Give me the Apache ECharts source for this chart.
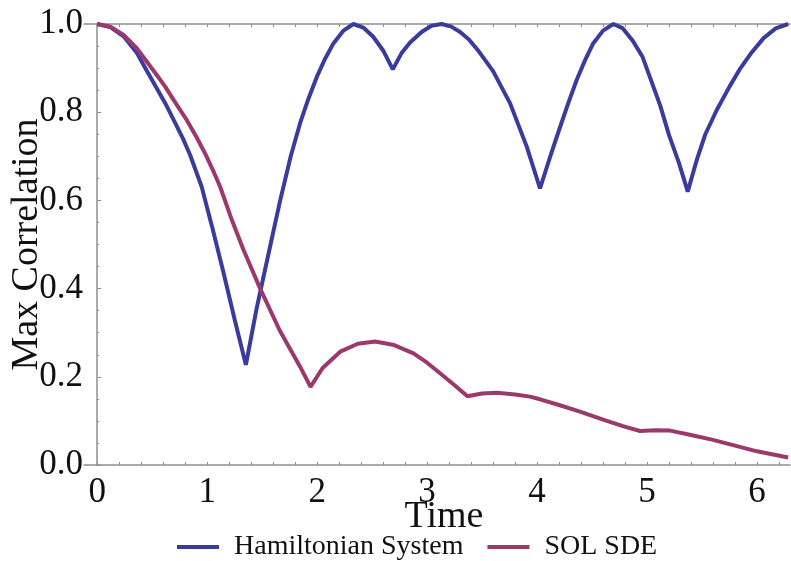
<!DOCTYPE html>
<html>
<head>
<meta charset="utf-8">
<script src="https://cdn.jsdelivr.net/npm/echarts@6/dist/echarts.min.js"></script>
<style>
  html, body { margin: 0; padding: 0; background: #fff; }
  #main { width: 791px; height: 561px; }
</style>
</head>
<body>
<div id="main"></div>
<script>
// values
var hamTime = [0, 0.12, 0.24, 0.36, 0.46, 0.54, 0.63, 0.71, 0.78, 0.845, 0.95, 1.05, 1.15, 1.25, 1.352, 1.45, 1.55, 1.664, 1.76, 1.845,
  1.92, 1.997, 2.07, 2.148, 2.24, 2.33, 2.42, 2.51, 2.6, 2.688, 2.77, 2.845, 2.95, 3.04, 3.133, 3.22, 3.3, 3.38, 3.47, 3.6,
  3.755, 3.906, 4.027, 4.12, 4.21, 4.29, 4.36, 4.44, 4.51, 4.6, 4.694, 4.78, 4.87, 4.96, 5.04, 5.12, 5.2, 5.29, 5.37, 5.45,
  5.53, 5.634, 5.75, 5.85, 5.95, 6.06, 6.17, 6.283];
var hamCorr = [1.0, 0.993, 0.972, 0.935, 0.89, 0.855, 0.815, 0.775, 0.74, 0.703, 0.631, 0.535, 0.435, 0.33, 0.227, 0.355, 0.47, 0.6, 0.70, 0.775,
  0.83, 0.88, 0.92, 0.956, 0.985, 1.0, 0.992, 0.971, 0.94, 0.897, 0.935, 0.958, 0.982, 0.996, 1.0, 0.994, 0.982, 0.965, 0.938, 0.893,
  0.82, 0.722, 0.627, 0.70, 0.767, 0.825, 0.873, 0.92, 0.956, 0.985, 1.0, 0.99, 0.962, 0.925, 0.87, 0.815, 0.748, 0.685, 0.62, 0.69,
  0.75, 0.805, 0.858, 0.9, 0.935, 0.968, 0.99, 1.0];

var sdeTime = [0, 0.12, 0.24, 0.36, 0.45, 0.54, 0.618, 0.715, 0.815, 0.9, 0.98, 1.05, 1.118, 1.224, 1.33, 1.482, 1.66, 1.845, 1.94, 2.05,
  2.21, 2.37, 2.527, 2.7, 2.876, 3.0, 3.118, 3.25, 3.367, 3.5, 3.634, 3.8, 3.936, 4.027, 4.2, 4.39, 4.6, 4.78, 4.936, 5.07,
  5.21, 5.4, 5.6, 5.8, 6.0, 6.283];
var sdeCorr = [1.0, 0.994, 0.975, 0.945, 0.915, 0.885, 0.858, 0.82, 0.782, 0.745, 0.707, 0.67, 0.631, 0.556, 0.488, 0.40, 0.305, 0.223, 0.177, 0.22,
  0.257, 0.275, 0.28, 0.272, 0.253, 0.232, 0.208, 0.181, 0.156, 0.162, 0.164, 0.16, 0.155, 0.149, 0.136, 0.121, 0.103, 0.088, 0.077, 0.079,
  0.078, 0.068, 0.057, 0.044, 0.031, 0.017];

var xLabels = [0, 1, 2, 3, 4, 5, 6];
var seriesNames = ['Hamiltonian System', 'SOL SDE'];

var serif = '"Liberation Serif", "DejaVu Serif", serif';
var axisGray = '#8f8f8f';

// tick every 0.2 along time
var xTicks = [];
for (var i = 0; i <= 31; i++) xTicks.push(Math.round(i * 0.2 * 10) / 10);

function pairs(t, v) {
  return t.map(function (x, i) { return [x, v[i]]; });
}

var myChart = echarts.init(document.getElementById('main'));
myChart.setOption({
  animation: false,
  color: ['#3a3c9c', '#9b386c'],
  grid: { left: 84, right: 1, top: 24, bottom: 96, containLabel: false, outerBoundsMode: 'none' },
  legend: {
    left: 177,
    top: 533,
    icon: 'rect',
    itemWidth: 42,
    itemHeight: 4,
    itemGap: 24,
    padding: 0,
    data: seriesNames,
    textStyle: { fontFamily: serif, fontSize: 28, color: '#111', padding: [0, 0, 0, 10] }
  },
  xAxis: [{
    type: 'value',
    min: -0.12,
    max: 6.3,
    position: 'bottom',
    name: 'Time',
    nameLocation: 'middle',
    nameGap: 33,
    nameMoveOverlap: false,
    nameTextStyle: { fontFamily: serif, fontSize: 38, color: '#111', padding: [0, 0, 0, 14] },
    axisLine: { lineStyle: { color: axisGray, width: 1.5 } },
    axisTick: { inside: true, length: 3, customValues: xTicks, lineStyle: { color: axisGray } },
    axisLabel: { customValues: xLabels, fontFamily: serif, fontSize: 35, color: '#111', margin: 10 },
    splitLine: { show: false }
  }, {
    type: 'value',
    min: -0.12,
    max: 6.3,
    position: 'top',
    axisLine: { lineStyle: { color: axisGray, width: 1.5 } },
    axisTick: { inside: true, length: 3, customValues: xTicks, lineStyle: { color: axisGray } },
    axisLabel: { show: false },
    splitLine: { show: false }
  }],
  yAxis: {
    type: 'value',
    min: 0,
    max: 1,
    interval: 0.2,
    name: 'Max Correlation',
    nameLocation: 'middle',
    nameRotate: 90,
    nameGap: 38,
    nameMoveOverlap: false,
    nameTextStyle: { fontFamily: serif, fontSize: 38, color: '#111' },
    axisLine: { show: true, lineStyle: { color: axisGray, width: 1.5 } },
    axisTick: { show: true, inside: true, length: 4, lineStyle: { color: axisGray } },
    minorTick: { show: true, splitNumber: 4, length: 2, lineStyle: { color: axisGray } },
    axisLabel: {
      fontFamily: serif, fontSize: 35, color: '#111', margin: 1,
      formatter: function (v) { return v.toFixed(1); }
    },
    splitLine: { show: false }
  },
  series: [{
    name: seriesNames[0],
    type: 'line',
    showSymbol: false,
    clip: false,
    lineStyle: { width: 4 },
    data: pairs(hamTime, hamCorr)
  }, {
    name: seriesNames[1],
    type: 'line',
    showSymbol: false,
    clip: false,
    lineStyle: { width: 4 },
    data: pairs(sdeTime, sdeCorr)
  }]
});
</script>
</body>
</html>
